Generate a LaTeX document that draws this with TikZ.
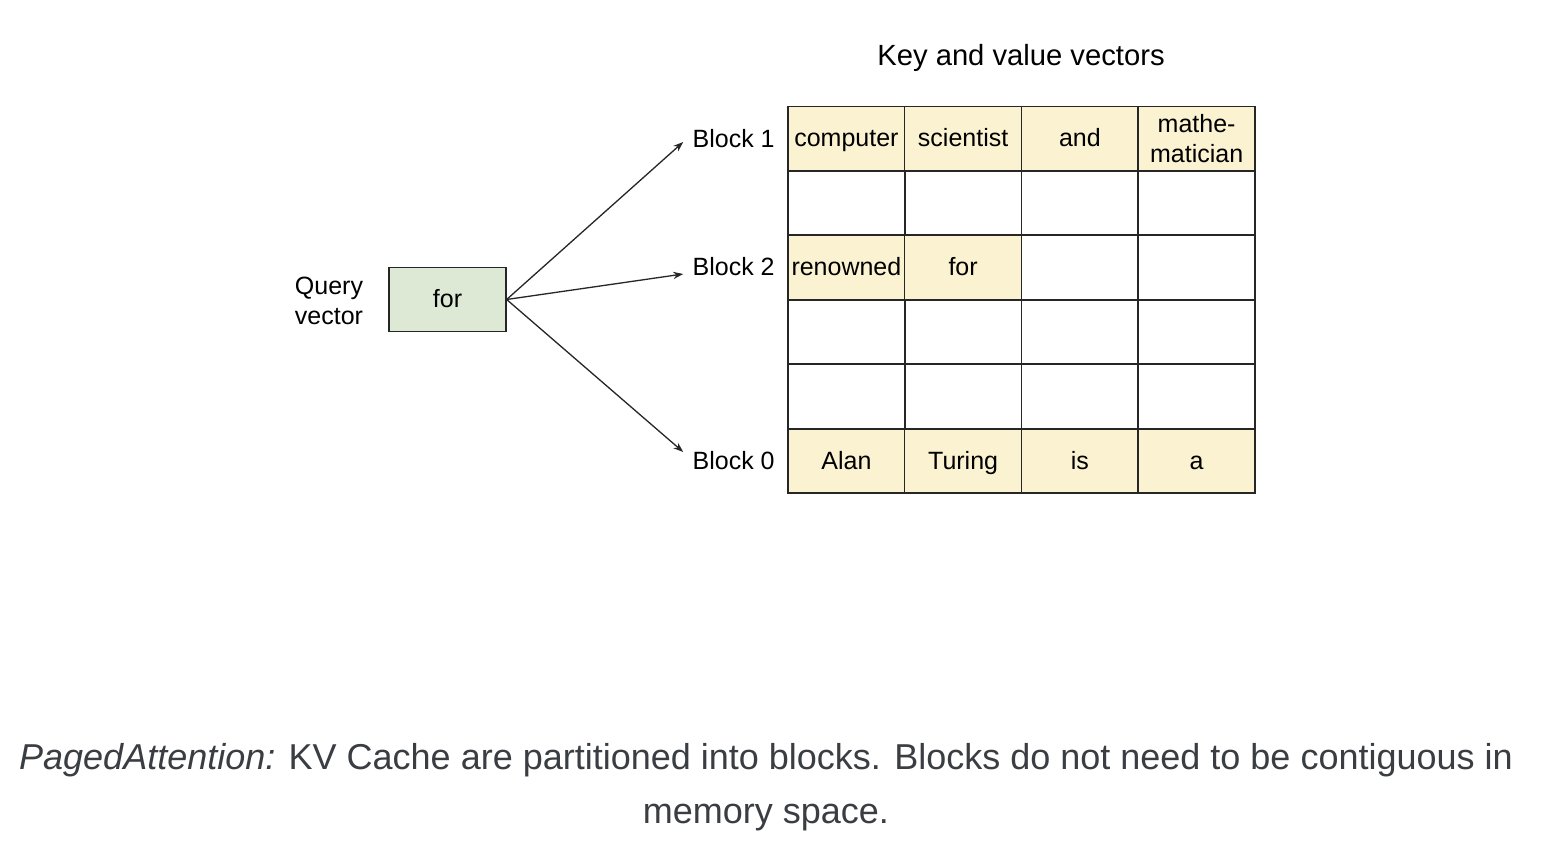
\documentclass[tikz,border=0pt]{standalone}
\usepackage{fontspec}
\setmainfont{Liberation Sans}
\usetikzlibrary{arrows.meta,calc}
\definecolor{yel}{HTML}{FAF2D0}
\definecolor{grn}{HTML}{DDE8D5}
\definecolor{capgray}{HTML}{3A3D42}
\tikzset{
  cell/.style={draw=black!85, line width=0.75pt, minimum width=58.4pt, minimum height=32.2pt, inner sep=0pt, font=\fontsize{12.5}{14}\selectfont, align=center},
  word/.style={text height=0.9em, text depth=0.06em},
  full/.style={cell, fill=yel},
  lbl/.style={font=\fontsize{12.5}{15}\selectfont, inner sep=0pt, align=center},
  arr/.style={-{Stealth[length=5pt,width=3.6pt]}, line width=0.65pt, black!85}
}
\begin{document}
\begin{tikzpicture}[x=0.5pt,y=-0.5pt]
\useasboundingbox[fill=white] (0,0) rectangle (1566,850);
\def\ca{846.4}\def\cb{963.1}\def\cc{1079.9}\def\cd{1196.6}
\node[full,word] (r1a) at (\ca,138.5) {computer};
\node[full,word] (r1b) at (\cb,138.5) {scientist};
\node[full,word] (r1c) at (\cc,138.5) {and};
\node[full,font=\fontsize{12.5}{15}\selectfont] (r1d) at (\cd,138.5) {mathe-\\matician};
\node[cell] (r2a) at (\ca,203) {};
\node[cell] (r2b) at (\cb,203) {};
\node[cell] (r2c) at (\cc,203) {};
\node[cell] (r2d) at (\cd,203) {};
\node[full,word] (r3a) at (\ca,267.5) {renowned};
\node[full,word] (r3b) at (\cb,267.5) {for};
\node[cell] (r3c) at (\cc,267.5) {};
\node[cell] (r3d) at (\cd,267.5) {};
\node[cell] (r4a) at (\ca,332) {};
\node[cell] (r4b) at (\cb,332) {};
\node[cell] (r4c) at (\cc,332) {};
\node[cell] (r4d) at (\cd,332) {};
\node[cell] (r5a) at (\ca,396.5) {};
\node[cell] (r5b) at (\cb,396.5) {};
\node[cell] (r5c) at (\cc,396.5) {};
\node[cell] (r5d) at (\cd,396.5) {};
\node[full,word] (r6a) at (\ca,461) {Alan};
\node[full,word] (r6b) at (\cb,461) {Turing};
\node[full,word] (r6c) at (\cc,461) {is};
\node[full,word] (r6d) at (\cd,461) {a};
\node[lbl,font=\fontsize{14.6}{17}\selectfont,word] (title) at (1021,57) {Key and value vectors};
\node[lbl,word,anchor=east] (b1) at (775,139) {Block 1};
\node[lbl,word,anchor=east] (b2) at (775,267) {Block 2};
\node[lbl,word,anchor=east] (b0) at (775,461) {Block 0};
\node[cell, fill=grn, word] (q) at (447.5,299.5) {for};
\node[lbl] (ql) at (329,301) {Query\\vector};
\draw[arr] (q.east) -- ($(b1.west)+(-9,3)$);
\draw[arr] (q.east) -- ($(b2.west)+(-9,7)$);
\draw[arr] (q.east) -- ($(b0.west)+(-9,-9)$);
\node[font=\fontsize{18}{27}\selectfont, text=capgray, align=center, inner sep=0pt] (cap) at (766,787) {\textit{PagedAttention:} KV Cache are partitioned into blocks. Blocks do not need to be contiguous in\\memory space.};
\end{tikzpicture}
\end{document}
